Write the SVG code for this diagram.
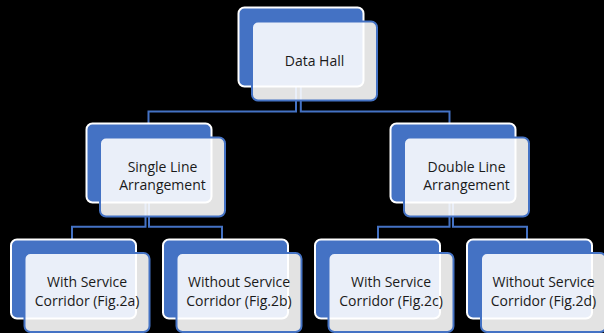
<svg xmlns="http://www.w3.org/2000/svg" width="604" height="333" viewBox="0 0 604 333">
<defs>
<style>
.bg{fill:#000000}
.conn{fill:none;stroke:#4472C4;stroke-width:2}
.back{fill:#4472C4;stroke:#FFFFFF;stroke-width:2}
.front{fill:#FFFFFF;fill-opacity:0.89;stroke:#4472C4;stroke-width:2}
.t{font-family:"Open Sans","Noto Sans","Liberation Sans",sans-serif;font-size:14px;fill:#1a1a1a;text-anchor:middle}
</style>
</defs>
<rect class="bg" x="0" y="0" width="604" height="333"/>
<g id="connectors">
<path class="conn" d="M296,87 V111.5 H148.5 V123.5"/>
<path class="conn" d="M300.8,87 V111.5 H449.5 V123.5"/>
<path class="conn" d="M145.5,202 V226.8 H72 V239.5"/>
<path class="conn" d="M149,202 V226.8 H222 V239.5"/>
<path class="conn" d="M449.5,202 V226.8 H378 V239.5"/>
<path class="conn" d="M453,202 V226.8 H527 V239.5"/>
</g>
<g id="node-data-hall">
<rect class="back" x="238.5" y="7.5" width="125" height="79" rx="6"/>
<rect class="front" x="252" y="21.5" width="125" height="79" rx="6"/>
<text class="t" x="314.5" y="66">Data Hall</text>
</g>
<g id="node-single-line">
<rect class="back" x="86.5" y="123.5" width="125" height="79" rx="6"/>
<rect class="front" x="100" y="137.5" width="125" height="79" rx="6"/>
<text class="t" x="162.5" y="172">Single Line</text>
<text class="t" x="162.5" y="190">Arrangement</text>
</g>
<g id="node-double-line">
<rect class="back" x="390.5" y="123.5" width="125" height="79" rx="6"/>
<rect class="front" x="404" y="137.5" width="125" height="79" rx="6"/>
<text class="t" x="466.5" y="172">Double Line</text>
<text class="t" x="466.5" y="190">Arrangement</text>
</g>
<g id="node-fig2a">
<rect class="back" x="11" y="239.5" width="125" height="79" rx="6"/>
<rect class="front" x="24.5" y="253" width="125" height="79" rx="6"/>
<text class="t" x="87" y="287">With Service</text>
<text class="t" x="87" y="306">Corridor (Fig.2a)</text>
</g>
<g id="node-fig2b">
<rect class="back" x="163" y="239.5" width="125" height="79" rx="6"/>
<rect class="front" x="176.5" y="253" width="125" height="79" rx="6"/>
<text class="t" x="239" y="287">Without Service</text>
<text class="t" x="239" y="306">Corridor (Fig.2b)</text>
</g>
<g id="node-fig2c">
<rect class="back" x="315" y="239.5" width="125" height="79" rx="6"/>
<rect class="front" x="328.5" y="253" width="125" height="79" rx="6"/>
<text class="t" x="391" y="287">With Service</text>
<text class="t" x="391" y="306">Corridor (Fig.2c)</text>
</g>
<g id="node-fig2d">
<rect class="back" x="467" y="239.5" width="125" height="79" rx="6"/>
<rect class="front" x="481" y="253" width="125" height="79" rx="6"/>
<text class="t" x="543.5" y="287">Without Service</text>
<text class="t" x="543.5" y="306">Corridor (Fig.2d)</text>
</g>
</svg>
